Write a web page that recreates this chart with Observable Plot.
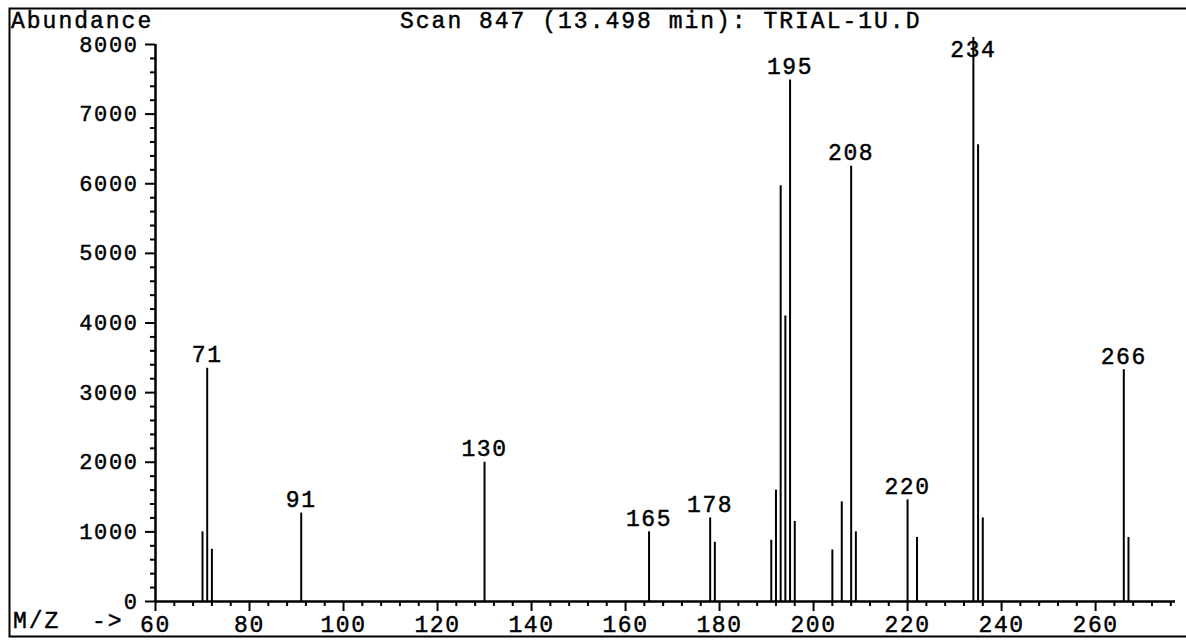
<!DOCTYPE html>
<html>
<head>
<meta charset="utf-8">
<script src="https://cdn.jsdelivr.net/npm/d3@7"></script>
<script src="https://cdn.jsdelivr.net/npm/@observablehq/plot@0.6"></script>
<style>
  html, body { margin: 0; padding: 0; background: #fff; }
  #chart { width: 1186px; height: 641px; }
  #chart svg text { stroke: black; stroke-width: 0.45px; }
</style>
</head>
<body>
<div id="chart"></div>
<script>
// ---- data ----
const mz        = [70, 71, 72, 91, 130, 165, 178, 179, 191, 192, 193, 194, 195, 196, 204, 206, 208, 209, 220, 222, 234, 235, 236, 266, 267];
const abundance = [1000, 3350, 750, 1270, 2000, 1000, 1200, 850, 880, 1600, 5970, 4100, 7490, 1150, 740, 1430, 6250, 1000, 1460, 920, 8100, 6560, 1200, 3330, 920];
const labeledMz = [71, 91, 130, 165, 178, 195, 208, 220, 234, 266];
const yTicks = [0, 1000, 2000, 3000, 4000, 5000, 6000, 7000, 8000];
const xTicks = [60, 80, 100, 120, 140, 160, 180, 200, 220, 240, 260];
const titleText = "Scan 847 (13.498 min): TRIAL-1U.D";
const yTitle = "Abundance";
const xTitle = "M/Z  ->";

// ---- derived tables ----
const peaks = mz.map((m, i) => ({mz: m, abundance: abundance[i]}));
const labels = peaks.filter(d => labeledMz.includes(d.mz));
const yMinor = d3.range(0, 8001, 200).filter(v => v % 1000 !== 0);
const xMinor = d3.range(60, 277, 4).filter(v => v % 20 !== 0);
const yMax = 8000;
// labels that would leave the plot top are kept just below it
const labelY = d => Math.min(d.abundance, yMax * 0.966);

const font = "'Liberation Mono', 'DejaVu Sans Mono', monospace";

const chart = Plot.plot({
  width: 1186,
  height: 641,
  marginLeft: 155,
  marginRight: 11,
  marginTop: 44,
  marginBottom: 40,
  x: {domain: [60, 277]},
  y: {domain: [0, yMax]},
  style: {fontFamily: font, fontSize: "22px", color: "black", background: "white", letterSpacing: "1.6px", overflow: "visible"},
  marks: [
    Plot.ruleX(peaks, {x: "mz", y1: 0, y2: "abundance", stroke: "black", strokeWidth: 2}),
    Plot.ruleY([0], {stroke: "black", strokeWidth: 2.5}),
    Plot.ruleX([60], {y1: 0, y2: yMax, stroke: "black", strokeWidth: 2.5}),
    Plot.axisY({ticks: yTicks, tickSize: 10, tickPadding: 7, tickFormat: d => String(d), label: null, strokeWidth: 2}),
    Plot.axisY({ticks: yMinor, tickSize: 5, tickFormat: () => "", label: null, strokeWidth: 2}),
    Plot.axisX({ticks: xTicks, tickSize: 10, tickPadding: 4, fontSize: 23, tickFormat: d => String(d), label: null, strokeWidth: 2}),
    Plot.axisX({ticks: xMinor, tickSize: 5, tickFormat: () => "", label: null, strokeWidth: 2}),
    Plot.text(labels, {x: "mz", y: labelY, text: d => String(d.mz), dy: -6, fontSize: 23, lineAnchor: "bottom", textAnchor: "middle", fill: "black"})
  ]
});

document.getElementById("chart").appendChild(chart);

// frame and header/footer texts inside the same SVG
const svg = d3.select(chart);
svg.append("rect")
  .attr("x", 9.5).attr("y", 8.5).attr("width", 1190).attr("height", 628)
  .attr("fill", "none").attr("stroke", "black").attr("stroke-width", 2);
const addText = (txt, x, y) => svg.append("text")
  .attr("x", x).attr("y", y)
  .attr("text-anchor", "start")
  .attr("font-family", font).attr("font-size", 23)
  .attr("letter-spacing", "2px")
  .attr("fill", "black")
  .attr("xml:space", "preserve")
  .style("white-space", "pre")
  .text(txt);
addText(yTitle, 11, 28);
addText(titleText, 400, 28);
addText(xTitle, 13, 628);
</script>
</body>
</html>
